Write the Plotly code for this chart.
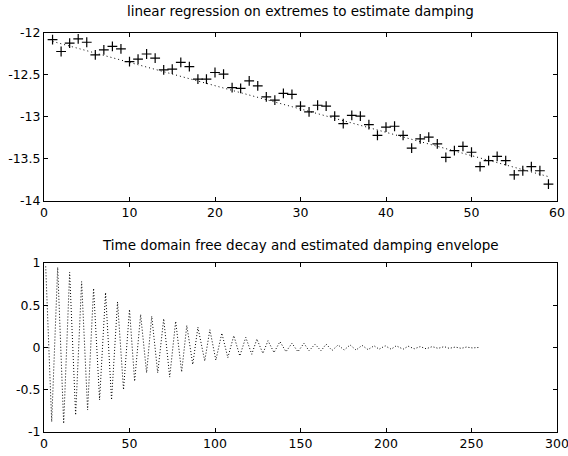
import plotly.graph_objects as go
from plotly.subplots import make_subplots

# ---------------- top panel: log of extremes vs index ----------------
ext_index = list(range(1, 60))
ext_logamp = [-12.08, -12.22, -12.12, -12.07, -12.11, -12.26, -12.20, -12.16, -12.19, -12.34,
              -12.31, -12.25, -12.30, -12.44, -12.43, -12.35, -12.40, -12.55, -12.55, -12.47,
              -12.49, -12.65, -12.66, -12.57, -12.63, -12.76, -12.80, -12.72, -12.73, -12.87,
              -12.94, -12.86, -12.87, -12.99, -13.08, -12.98, -12.99, -13.09, -13.22, -13.12,
              -13.11, -13.22, -13.37, -13.26, -13.24, -13.32, -13.48, -13.40, -13.35, -13.42,
              -13.59, -13.52, -13.47, -13.52, -13.69, -13.64, -13.59, -13.64, -13.80]
fit_x = [1, 59]
fit_y = [-12.10, -13.71]

top_xticks = [0, 10, 20, 30, 40, 50, 60]
top_yticks = [-14, -13.5, -13, -12.5, -12]
top_yticklabels = ["-14", "-13.5", "-13", "-12.5", "-12"]

# ---------------- bottom panel: free decay (peaks) ----------------
pos_peak_t = [1, 8, 15, 22, 29, 36, 43, 50, 56.5, 63, 70, 77, 83.5, 90, 97, 104, 111, 118,
              124.5, 131, 138, 145, 152, 158.5, 165, 172, 179, 186, 193, 199.5, 206, 213,
              220, 227, 234, 240.5, 247, 254]
pos_peak_v = [0.96, 0.95, 0.89, 0.78, 0.70, 0.65, 0.54, 0.45, 0.39, 0.37, 0.34, 0.31, 0.26,
              0.24, 0.21, 0.17, 0.14, 0.12, 0.10, 0.08, 0.07, 0.05, 0.05, 0.04, 0.04, 0.03,
              0.03, 0.025, 0.02, 0.02, 0.02, 0.015, 0.01, 0.01, 0.01, 0.005, 0.005, 0.0]
neg_peak_t = [4.5, 11.5, 18.5, 25.5, 32.5, 39.5, 46.5, 53, 60, 66.5, 73.5, 80.5, 87, 94,
              100.5, 107.5, 114.5, 121.5, 128, 134.5, 141.5, 148.5, 155, 162, 168.5, 175.5,
              182.5, 189.5, 196, 203, 210, 216.5, 223.5, 230.5, 237, 244, 250.5]
neg_peak_v = [-0.88, -0.90, -0.80, -0.74, -0.62, -0.62, -0.50, -0.40, -0.30, -0.30, -0.35,
              -0.29, -0.20, -0.16, -0.15, -0.12, -0.10, -0.08, -0.07, -0.06, -0.05, -0.05,
              -0.04, -0.04, -0.035, -0.03, -0.03, -0.025, -0.02, -0.02, -0.02, -0.015,
              -0.015, -0.01, -0.01, -0.01, -0.005]

bot_xticks = [0, 50, 100, 150, 200, 250, 300]
bot_yticks = [-1, -0.5, 0, 0.5, 1]
bot_yticklabels = ["-1", "-0.5", "0", "0.5", "1"]

pairs = sorted(list(zip(pos_peak_t, pos_peak_v)) + list(zip(neg_peak_t, neg_peak_v)))
decay_t = [p[0] for p in pairs]
decay_v = [p[1] for p in pairs]

FONT = "DejaVu Sans, Liberation Sans, Arial, sans-serif"
TICKFONT = dict(family=FONT, size=12.5, color="black")

fig = make_subplots(rows=2, cols=1, vertical_spacing=0.155)

fig.add_trace(go.Scatter(x=fit_x, y=fit_y, mode="lines",
                         line=dict(color="black", width=1, dash="1px,3px"),
                         showlegend=False), row=1, col=1)
fig.add_trace(go.Scatter(x=ext_index, y=ext_logamp, mode="markers",
                         marker=dict(symbol="cross-thin", size=7, color="black",
                                     line=dict(color="black", width=1.2)),
                         showlegend=False), row=1, col=1)
fig.add_trace(go.Scatter(x=decay_t, y=decay_v, mode="lines",
                         line=dict(color="black", width=1, dash="1px,2px"),
                         showlegend=False), row=2, col=1)

axis_common = dict(showline=True, linecolor="black", linewidth=1, mirror="ticks",
                   ticks="inside", ticklen=4, tickcolor="black", showgrid=False,
                   zeroline=False, tickfont=TICKFONT, automargin=False,
                   ticklabeloverflow="allow")

fig.update_xaxes(range=[0, 60], tickvals=top_xticks, row=1, col=1, **axis_common)
fig.update_yaxes(range=[-14, -12], tickvals=top_yticks, ticktext=top_yticklabels,
                 row=1, col=1, **axis_common)
fig.update_xaxes(range=[0, 300], tickvals=bot_xticks, row=2, col=1, **axis_common)
fig.update_yaxes(range=[-1, 1], tickvals=bot_yticks, ticktext=bot_yticklabels,
                 row=2, col=1, **axis_common)

annotations = [
    dict(text="linear regression on extremes to estimate damping", xref="paper",
         yref="paper", x=0.5, y=1.0, yanchor="bottom", yshift=12, showarrow=False,
         font=dict(family=FONT, size=13.5, color="black")),
    dict(text="Time domain free decay and estimated damping envelope", xref="paper",
         yref="paper", x=0.5, y=0.4236, yanchor="bottom", yshift=8, showarrow=False,
         font=dict(family=FONT, size=13.5, color="black")),
]

fig.update_layout(
    width=568, height=456,
    margin=dict(l=44, r=11, t=33, b=24),
    paper_bgcolor="white", plot_bgcolor="white",
    font=dict(family=FONT, size=12.5, color="black"),
    annotations=annotations,
)
fig.update_yaxes(domain=[0.579, 1.0], row=1, col=1)
fig.update_yaxes(domain=[0.0, 0.4236], row=2, col=1)

fig.write_html("out.html",
               config={"displayModeBar": False},
               post_script="document.body.style.margin='0px';"
                           "document.body.style.overflow='hidden';")
